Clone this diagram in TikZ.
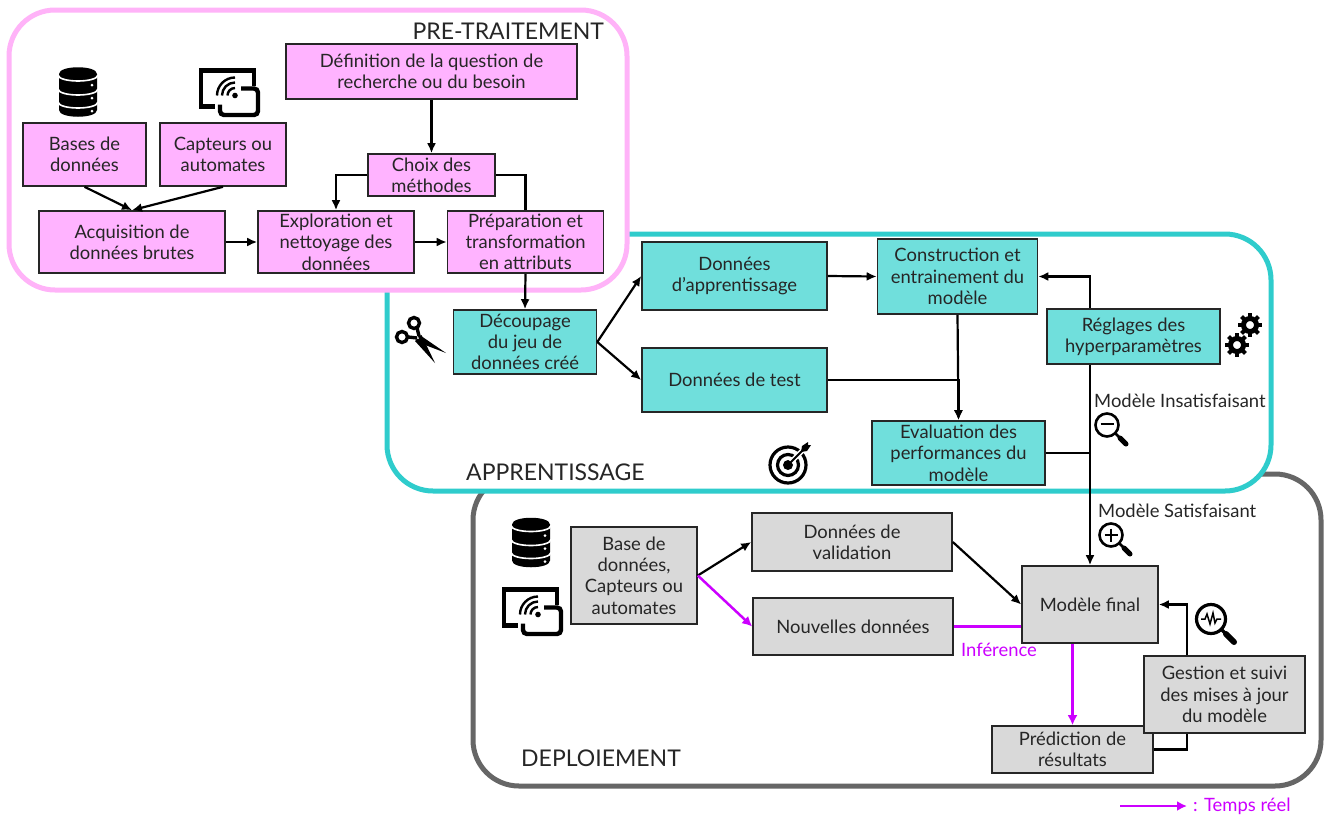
\documentclass[tikz,border=0pt]{standalone}
\usepackage{fontspec}
\setmainfont{Lato}
\usepackage{tikz}
\usetikzlibrary{arrows.meta}
\definecolor{pinkfill}{HTML}{FFB3FF}
\definecolor{pinkframe}{HTML}{FFB3F8}
\definecolor{tealfill}{HTML}{70DFDC}
\definecolor{tealframe}{HTML}{2FCCCC}
\definecolor{greyfill}{HTML}{D9D9D9}
\definecolor{greyframe}{HTML}{666666}
\definecolor{liveline}{HTML}{CC00FF}
\definecolor{ink}{HTML}{262626}
\tikzstyle{box} = [draw=black!85, line width=1.6pt, inner sep=0pt, align=center, text=ink, font=\fontsize{18.4}{21.3}\selectfont]
\tikzstyle{pnode} = [box, fill=pinkfill]
\tikzstyle{tnode} = [box, fill=tealfill]
\tikzstyle{gnode} = [box, fill=greyfill]
\tikzstyle{frame} = [rounded corners=46pt, line width=5pt, fill=white, inner sep=0pt]
\tikzstyle{title} = [text=ink, inner sep=0pt, font=\fontsize{23}{26}\selectfont]
\tikzstyle{note} = [text=ink, inner sep=0pt, font=\fontsize{18.4}{20}\selectfont]
\tikzstyle{live} = [note, text=liveline]
\tikzstyle{line} = [draw, line width=2.2pt]
\tikzstyle{arrow} = [draw, line width=2.2pt, -{Latex[length=10pt,width=9pt]}]
\tikzstyle{liveline} = [draw=liveline, line width=2.5pt]
\tikzstyle{livearrow} = [draw=liveline, line width=2.5pt, -{Latex[length=10pt,width=10pt]}]
\tikzset{
	dbicon/.pic={
		\fill (-19,-18) .. controls (-19,-27) and (19,-27) .. (19,-18) -- (19,18) .. controls (19,27) and (-19,27) .. (-19,18) -- cycle;
		\draw [white, line width=1.6pt] (-20,-17) .. controls (-19,-9) and (19,-9) .. (20,-17);
		\draw [white, line width=1.6pt] (-20,-3) .. controls (-19,5) and (19,5) .. (20,-3);
		\draw [white, line width=1.6pt] (-20,10) .. controls (-19,18) and (19,18) .. (20,10);
		\foreach \y in {-6,7,20} \fill [white] (14,\y-1) circle (1.5);
	},
	deviceicon/.pic={
		\draw [line width=4.4pt] (25,-7) -- (25,-22) -- (-28,-22) -- (-28,14) -- (-14,14);
		\draw [line width=4.4pt, rounded corners=4pt] (12,-4) -- (29,-4) -- (29,22.5) -- (-9,22.5) -- (-9,12);
		\fill (6,3) circle (2.8);
		\foreach \r in {7.5,13,18} \draw [line width=2.4pt] (6-\r,3) arc [start angle=180, end angle=270, radius=\r];
	},
	scissoricon/.pic={
		\draw [line width=3.4pt] (-6,-16) circle (5.5);
		\draw [line width=3.4pt] (-18,-2) circle (5.5);
		\draw [line width=3.4pt] (-3,-11) -- (-1,-3);
		\draw [line width=3.4pt] (-12,-2) -- (-3,-1);
		\fill (1.5,-4) -- (15,24) -- (-5,2) -- cycle;
		\fill (-1,-4.5) -- (26,14) -- (-4,2.5) -- cycle;
		\fill [white] (-2,-1) circle (1);
	},
	targeticon/.pic={
		\draw [line width=3.2pt] (0,0) circle (18);
		\draw [line width=3.2pt] (0,0) circle (10.5);
		\fill (0,0) circle (5);
		\draw [white, line width=5pt] (3,-3) -- (18,-18);
		\draw [line width=2pt] (0,0) -- (16,-16);
		\fill (13,-13) -- (14,-19) -- (20,-23) -- (20,-20) -- (23,-20) -- (19,-14) -- cycle;
	},
	gearicon/.pic={
		\draw [line width=5pt] (0,0) circle (6.5);
		\foreach \a in {0,45,...,315} \draw [line width=4pt] (\a:8) -- (\a:12);
	},
	lensicon/.pic={
		\draw [line width=2.6pt] (0,0) circle (11.5);
		\draw [line width=2.6pt] (8,8) -- (13,13);
		\draw [line width=5pt, line cap=round] (13,13) -- (19,19);
	},
	lensminus/.pic={
		\pic {lensicon};
		\draw [line width=2.8pt] (-6.5,-1) -- (6.5,-1);
	},
	lensplus/.pic={
		\pic {lensicon};
		\draw [line width=2.4pt] (-6.5,0) -- (6.5,0);
		\draw [line width=2.4pt] (0,-6.5) -- (0,6.5);
	},
	lenspulse/.pic={
		\draw [line width=3.2pt] (0,0) circle (14.5);
		\draw [line width=3.2pt] (10,10) -- (15,15);
		\draw [line width=6pt, line cap=round] (15,15) -- (23,23);
		\draw [line width=1.5pt] (-10,0) -- (-6,0) -- (-4,-5) -- (-1,5) -- (2,-6) -- (4,4) -- (6,0) -- (10,0);
	}
}

\begin{document}
\begin{tikzpicture}[x=1pt, y=-1pt]
	\useasboundingbox (0,0) rectangle (1330,817);
	% cadres
	\node [frame, draw=greyframe, minimum width=848pt, minimum height=312pt] (deploi) at (897,630) {};
	\node [frame, draw=tealframe, minimum width=884pt, minimum height=257pt] (appren) at (829,362.5) {};
	\node [frame, draw=pinkframe, minimum width=618pt, minimum height=280pt] (pretrait) at (318,150) {};
	\node [title, anchor=east] (tpretrait) at (604,31) {PRE-TRAITEMENT};
	\node [title, anchor=west] (tappren) at (466,472) {APPRENTISSAGE};
	\node [title, anchor=west] (tdeploi) at (521,758) {DEPLOIEMENT};

	% pre-traitement
	\node [pnode, minimum width=291pt, minimum height=55pt] (def) at (431.5,71.5) {Définition de la question de\\recherche ou du besoin};
	\node [pnode, minimum width=123pt, minimum height=63pt] (bases) at (84.5,154.5) {Bases de\\données};
	\node [pnode, minimum width=126pt, minimum height=63pt] (capt) at (223,154.5) {Capteurs ou\\automates};
	\node [pnode, minimum width=127pt, minimum height=42pt] (choix) at (431.5,175) {Choix des\\méthodes};
	\node [pnode, minimum width=186pt, minimum height=62pt] (acq) at (132,242) {Acquisition de\\données brutes};
	\node [pnode, minimum width=156pt, minimum height=62pt] (expl) at (336,242) {Exploration et\\nettoyage des\\données};
	\node [pnode, minimum width=156pt, minimum height=62pt] (prep) at (525.5,242) {Préparation et\\transformation\\en attributs};

	% apprentissage
	\node [tnode, minimum width=143pt, minimum height=64pt] (decoup) at (525,342) {Découpage\\du jeu de\\données créé};
	\node [tnode, minimum width=185pt, minimum height=68pt] (app) at (734.5,276) {Données\\d'apprentissage};
	\node [tnode, minimum width=185pt, minimum height=64pt] (test) at (734.5,380) {Données de test};
	\node [tnode, minimum width=160pt, minimum height=75pt] (constr) at (957.5,276.5) {Construction et\\entrainement du\\modèle};
	\node [tnode, minimum width=173pt, minimum height=55pt] (regl) at (1133.5,336.5) {Réglages des\\hyperparamètres};
	\node [tnode, minimum width=173pt, minimum height=64pt] (eval) at (958.5,453) {Evaluation des\\performances du\\modèle};

	% deploiement
	\node [gnode, minimum width=126pt, minimum height=97pt] (base) at (634,575.5) {Base de\\données,\\Capteurs ou\\automates};
	\node [gnode, minimum width=200pt, minimum height=58pt] (valid) at (852,542) {Données de\\validation};
	\node [gnode, minimum width=200pt, minimum height=57pt] (nouv) at (853,626.5) {Nouvelles données};
	\node [gnode, minimum width=136pt, minimum height=77pt] (final) at (1090,604.5) {Modèle final};
	\node [gnode, minimum width=161pt, minimum height=47pt] (predic) at (1072.5,749.5) {Prédiction de\\résultats};
	\node [gnode, minimum width=161pt, minimum height=77pt] (gest) at (1224.5,694.5) {Gestion et suivi\\des mises à jour\\du modèle};

	% textes
	\node [note, anchor=west] (insat) at (1094,401) {Modèle Insatisfaisant};
	\node [note, anchor=west] (satis) at (1098,511) {Modèle Satisfaisant};
	\node [live, anchor=west] (infer) at (961,650) {Inférence};
	\node [live, anchor=west, inner sep=6pt] (legend) at (1187,806) {: Temps réel};
	\coordinate (legstart) at (1120,806);

	% fleches
	\path [arrow] (bases.south) -- (acq.north);
	\path [arrow] (capt.south) -- (acq.north);
	\path [arrow] (def.south) -- (choix.north);
	\path [arrow] (choix.west) -| (expl.north);
	\path [line] (choix.east) -| (prep.north);
	\path [arrow] (acq.east) -- (expl.west);
	\path [arrow] (expl.east) -- (prep.west);
	\path [arrow] (prep.south) -- (decoup.north);
	\path [arrow] (decoup.east) -- (app.west);
	\path [arrow] (decoup.east) -- (test.west);
	\path [arrow] (app.east) -- (constr.west);
	\path [arrow] (constr.south) -- (eval.north);
	\path [arrow] (test.east) -| (eval.north);
	\path [arrow] (final.north |- regl.north) |- (constr.east);
	\path [arrow] (final.north |- regl.south) -- (final.north);
	\path [line] (eval.east) -- (eval.east -| final.north);
	\path [arrow] (base.east) -- (valid.west);
	\path [livearrow] (base.east) -- (nouv.west);
	\path [arrow] (valid.east) -- (final.west);
	\path [liveline] (nouv.east) -- (nouv.east -| final.west);
	\path [livearrow] (final.south -| predic.north) -- (predic.north);
	\path [line] (predic.east) -| ([xshift=-37.5pt]gest.south);
	\path [arrow] ([xshift=-37.5pt]gest.north) |- (final.east);
	\path [livearrow] (legstart) -- (legend.west);

	% icones
	\pic at (78,92) {dbicon};
	\pic at (531,542.5) {dbicon};
	\pic at (229,92.5) {deviceicon};
	\pic at (532,611.5) {deviceicon};
	\pic at (420,339) {scissoricon};
	\pic at (788,465) {targeticon};
	\pic at (1250,325) {gearicon};
	\pic at (1237,345) {gearicon};
	\pic at (1107,425) {lensminus};
	\pic at (1111,535) {lensplus};
	\pic at (1211,619) {lenspulse};
\end{tikzpicture}
\end{document}
